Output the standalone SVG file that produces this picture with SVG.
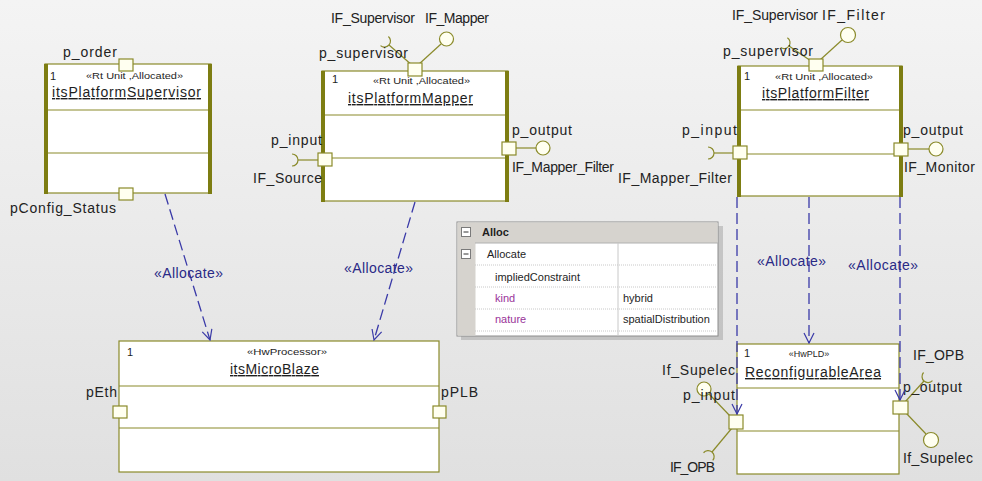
<svg xmlns="http://www.w3.org/2000/svg" xmlns:xlink="http://www.w3.org/1999/xlink" width="982" height="481" viewBox="0 0 982 481">
<defs>
<linearGradient id="bg" x1="0" y1="0" x2="0" y2="1">
<stop offset="0" stop-color="#f4f4f4"/>
<stop offset="1" stop-color="#e0e0e0"/>
</linearGradient>
<marker id="arr" markerWidth="12" markerHeight="12" refX="11" refY="6" orient="auto" markerUnits="userSpaceOnUse">
<path d="M1,1 L11,6 L1,11" fill="none" stroke="#3a3aa8" stroke-width="1.2"/>
</marker>
<path id="socket" d="M-6,-6 A6,6 0 0 1 -6,6" fill="none" stroke="#8a8a2a" stroke-width="1.2"/>
<style>
.box{fill:#ffffff;stroke:#8a8a2a;stroke-width:1.2}
.bar{fill:#7d7d12}
.sep{stroke:#8a8a2a;stroke-width:1.2}
.port{fill:#fffff0;stroke:#8a8a2a;stroke-width:1.2}
.ifl{stroke:#8a8a2a;stroke-width:1.2;fill:none}
.ball{fill:#fffff0;stroke:#8a8a2a;stroke-width:1.2}
.lbl{font-family:"Liberation Sans",Arial,sans-serif;font-size:14px;fill:#222222}
.st{font-family:"Liberation Sans",Arial,sans-serif;font-size:9px;fill:#1e1e1e}
.one{font-family:"Liberation Sans",Arial,sans-serif;font-size:11px;fill:#1e1e1e}
.nm{font-family:"Liberation Sans",Arial,sans-serif;font-size:14px;fill:#1e1e1e;text-decoration:underline}
.dep{stroke:#3a3aa8;stroke-width:1.3;stroke-dasharray:11 5;fill:none}
.al{font-family:"Liberation Sans",Arial,sans-serif;font-size:14px;fill:#2a2a86}
.tb{font-family:"Liberation Sans",Arial,sans-serif;font-size:11px;fill:#1e1e1e}
.tp{font-family:"Liberation Sans",Arial,sans-serif;font-size:11px;fill:#993399}
.row{stroke:#c8c8c8;stroke-width:1;stroke-dasharray:1 1}
</style>
</defs>
<rect x="0" y="0" width="982" height="481" fill="url(#bg)"/>

<g id="itsPlatformSupervisor">
<rect class="box" x="45" y="64" width="166" height="129"/>
<rect class="bar" x="44" y="64" width="4" height="130"/>
<rect class="bar" x="208" y="64" width="4" height="130"/>
<line class="sep" x1="48" y1="110" x2="208" y2="110"/>
<line class="sep" x1="48" y1="153" x2="208" y2="153"/>
<text class="one" x="50" y="80">1</text>
<text class="st" x="86" y="79" textLength="97" lengthAdjust="spacingAndGlyphs">«Rt Unit ,Allocated»</text>
<text class="nm" x="52" y="97" textLength="149" lengthAdjust="spacing">itsPlatformSupervisor</text>
<rect class="port" x="119" y="59" width="14" height="12"/>
<rect class="port" x="119" y="188" width="14" height="12"/>
<text class="lbl" x="63" y="57" textLength="54" lengthAdjust="spacing">p_order</text>
<text class="lbl" x="10" y="213" textLength="106" lengthAdjust="spacing">pConfig_Status</text>
</g>

<g id="itsPlatformMapper">
<rect class="box" x="322" y="71" width="186" height="130"/>
<rect class="bar" x="321" y="71" width="4" height="131"/>
<rect class="bar" x="505" y="71" width="4" height="131"/>
<line class="sep" x1="325" y1="115" x2="505" y2="115"/>
<line class="sep" x1="325" y1="158" x2="505" y2="158"/>
<text class="one" x="332" y="83">1</text>
<text class="st" x="373" y="84" textLength="97" lengthAdjust="spacingAndGlyphs">«Rt Unit ,Allocated»</text>
<text class="nm" x="348" y="103" textLength="125" lengthAdjust="spacing">itsPlatformMapper</text>
<line class="ifl" x1="413" y1="66" x2="389" y2="45"/>
<use xlink:href="#socket" href="#socket" transform="translate(389,45) rotate(41)"/>
<line class="ifl" x1="418" y1="65" x2="441" y2="44"/>
<circle class="ball" cx="446.5" cy="39" r="7"/>
<rect class="port" x="408" y="63" width="14" height="13"/>
<line class="ifl" x1="318" y1="160" x2="298" y2="160"/>
<use xlink:href="#socket" href="#socket" transform="translate(298,160)"/>
<rect class="port" x="318" y="153" width="14" height="13"/>
<line class="ifl" x1="516" y1="148" x2="536" y2="148"/>
<circle class="ball" cx="543" cy="148" r="7"/>
<rect class="port" x="502" y="142" width="14" height="13"/>
<text class="lbl" x="331" y="23" textLength="84" lengthAdjust="spacing">IF_Supervisor</text>
<text class="lbl" x="425" y="23" textLength="64" lengthAdjust="spacing">IF_Mapper</text>
<text class="lbl" x="319" y="58" textLength="89" lengthAdjust="spacing">p_supervisor</text>
<text class="lbl" x="271" y="145" textLength="51" lengthAdjust="spacing">p_input</text>
<text class="lbl" x="253" y="183" textLength="69" lengthAdjust="spacing">IF_Source</text>
<text class="lbl" x="512" y="135" textLength="60" lengthAdjust="spacing">p_output</text>
<text class="lbl" x="512" y="172" textLength="102" lengthAdjust="spacing">IF_Mapper_Filter</text>
</g>

<g id="itsPlatformFilter">
<rect class="box" x="738" y="66" width="164" height="130"/>
<rect class="bar" x="737" y="66" width="4" height="131"/>
<rect class="bar" x="899" y="66" width="4" height="131"/>
<line class="sep" x1="741" y1="110" x2="899" y2="110"/>
<line class="sep" x1="741" y1="154" x2="899" y2="154"/>
<text class="one" x="744" y="80">1</text>
<text class="st" x="775" y="80" textLength="98" lengthAdjust="spacingAndGlyphs">«Rt Unit ,Allocated»</text>
<text class="nm" x="762" y="98" textLength="107" lengthAdjust="spacing">itsPlatformFilter</text>
<line class="ifl" x1="811" y1="61" x2="789" y2="46"/>
<use xlink:href="#socket" href="#socket" transform="translate(789,46) rotate(34)"/>
<line class="ifl" x1="820" y1="60" x2="842" y2="40"/>
<circle class="ball" cx="848" cy="35" r="7.5"/>
<rect class="port" x="809" y="59" width="14" height="12"/>
<line class="ifl" x1="733" y1="153" x2="714" y2="153"/>
<use xlink:href="#socket" href="#socket" transform="translate(714,153)"/>
<rect class="port" x="733" y="146" width="14" height="13"/>
<line class="ifl" x1="908" y1="149" x2="929" y2="149"/>
<circle class="ball" cx="936" cy="149" r="7"/>
<rect class="port" x="894" y="143" width="14" height="13"/>
<text class="lbl" x="732" y="20" textLength="86" lengthAdjust="spacing">IF_Supervisor</text>
<text class="lbl" x="822" y="20" textLength="63" lengthAdjust="spacing">IF_Filter</text>
<text class="lbl" x="723" y="56" textLength="90" lengthAdjust="spacing">p_supervisor</text>
<text class="lbl" x="682" y="135" textLength="55" lengthAdjust="spacing">p_input</text>
<text class="lbl" x="618" y="183" textLength="114" lengthAdjust="spacing">IF_Mapper_Filter</text>
<text class="lbl" x="903" y="135" textLength="60" lengthAdjust="spacing">p_output</text>
<text class="lbl" x="904" y="172" textLength="71" lengthAdjust="spacing">IF_Monitor</text>
</g>

<g id="itsMicroBlaze">
<rect class="box" x="119" y="341" width="320" height="131"/>
<line class="sep" x1="119" y1="386" x2="439" y2="386"/>
<line class="sep" x1="119" y1="428" x2="439" y2="428"/>
<text class="one" x="127" y="356">1</text>
<text class="st" x="247" y="355" textLength="80" lengthAdjust="spacingAndGlyphs">«HwProcessor»</text>
<text class="nm" x="230" y="374" textLength="89" lengthAdjust="spacing">itsMicroBlaze</text>
<rect class="port" x="113" y="406" width="14" height="12"/>
<rect class="port" x="433" y="406" width="13" height="12"/>
<text class="lbl" x="86" y="397" textLength="31" lengthAdjust="spacing">pEth</text>
<text class="lbl" x="441" y="397" textLength="37" lengthAdjust="spacing">pPLB</text>
</g>

<g id="ReconfigurableArea">
<rect class="box" x="737" y="344" width="162" height="130"/>
<line class="sep" x1="737" y1="388" x2="899" y2="388"/>
<line class="sep" x1="737" y1="431" x2="899" y2="431"/>
<text class="one" x="744" y="357">1</text>
<text class="st" x="809" y="357" text-anchor="middle" font-size="8.5">«HwPLD»</text>
<text class="nm" x="745" y="377" textLength="136" lengthAdjust="spacing">ReconfigurableArea</text>
<line class="ifl" x1="731" y1="417" x2="709" y2="394"/>
<circle class="ball" cx="704" cy="389" r="7"/>
<line class="ifl" x1="732" y1="428" x2="712" y2="452"/>
<use xlink:href="#socket" href="#socket" transform="translate(712,452) rotate(-50)"/>
<rect class="port" x="729" y="415" width="14" height="14"/>
<line class="ifl" x1="905" y1="402" x2="924" y2="381"/>
<use xlink:href="#socket" href="#socket" transform="translate(924,381) rotate(132)"/>
<line class="ifl" x1="906" y1="413" x2="926" y2="434"/>
<circle class="ball" cx="931" cy="440" r="7.5"/>
<rect class="port" x="893" y="401" width="15" height="13"/>
<text class="lbl" x="662" y="375" textLength="73" lengthAdjust="spacing">If_Supelec</text>
<text class="lbl" x="683" y="400" textLength="52" lengthAdjust="spacing">p_input</text>
<text class="lbl" x="670" y="472" textLength="45" lengthAdjust="spacing">IF_OPB</text>
<text class="lbl" x="913" y="360" textLength="51" lengthAdjust="spacing">IF_OPB</text>
<text class="lbl" x="903" y="392" textLength="59" lengthAdjust="spacing">p_output</text>
<text class="lbl" x="903" y="463" textLength="70" lengthAdjust="spacing">If_Supelec</text>
</g>

<g id="AllocTable">
<rect x="461" y="226" width="262" height="114" fill="#9a9a9a" opacity="0.45"/>
<rect x="457" y="222" width="261" height="114" fill="#ffffff" stroke="#8c8c8c" stroke-width="1"/>
<rect x="457.5" y="222.5" width="18" height="113" fill="#d6d3ce"/>
<rect x="475" y="222.5" width="242.5" height="20.5" fill="#d6d3ce"/>
<line x1="475" y1="243" x2="718" y2="243" stroke="#b0b0b0"/>
<line class="row" x1="475" y1="265" x2="718" y2="265"/>
<line class="row" x1="475" y1="287" x2="718" y2="287"/>
<line class="row" x1="475" y1="309" x2="718" y2="309"/>
<line class="row" x1="475" y1="331" x2="718" y2="331"/>
<line x1="618" y1="243" x2="618" y2="336" stroke="#c8c8c8"/>
<rect x="461.5" y="227.5" width="9" height="9" fill="#ffffff" stroke="#7a7a7a"/>
<line x1="463.5" y1="232" x2="468.5" y2="232" stroke="#333"/>
<rect x="461.5" y="249.5" width="9" height="9" fill="#ffffff" stroke="#7a7a7a"/>
<line x1="463.5" y1="254" x2="468.5" y2="254" stroke="#333"/>
<text class="tb" x="482" y="236" font-weight="bold">Alloc</text>
<text class="tb" x="487" y="258">Allocate</text>
<text class="tb" x="495" y="281">impliedConstraint</text>
<text class="tp" x="495" y="302">kind</text>
<text class="tb" x="623" y="302">hybrid</text>
<text class="tp" x="495" y="323">nature</text>
<text class="tb" x="623" y="323">spatialDistribution</text>
</g>

<g id="connectors">
<line class="dep" x1="165" y1="194" x2="210" y2="340" marker-end="url(#arr)"/>
<line class="dep" x1="415" y1="202" x2="374" y2="340" marker-end="url(#arr)"/>
<line class="dep" x1="737" y1="197" x2="737" y2="414" marker-end="url(#arr)"/>
<line class="dep" x1="809" y1="197" x2="809" y2="343" marker-end="url(#arr)"/>
<line class="dep" x1="900" y1="197" x2="900" y2="400" marker-end="url(#arr)"/>
<text class="al" x="154" y="278" textLength="69" lengthAdjust="spacing">«Allocate»</text>
<text class="al" x="344" y="273" textLength="69" lengthAdjust="spacing">«Allocate»</text>
<text class="al" x="757" y="266" textLength="69" lengthAdjust="spacing">«Allocate»</text>
<text class="al" x="848" y="270" textLength="70" lengthAdjust="spacing">«Allocate»</text>
</g>
</svg>
